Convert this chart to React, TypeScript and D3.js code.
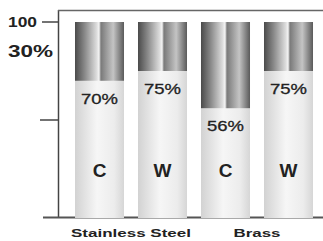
import React from 'react';
import * as d3 from 'd3';

// Data
const groups = ['Stainless Steel', 'Brass'];
const barLabels = ['C', 'W', 'C', 'W'];
const barGroup = [0, 0, 1, 1];
const lightPct = [70, 75, 56, 75];
const yTicks = [100, 50];

const W = 323;
const H = 241;
const font = 'Liberation Sans, Arial, Helvetica, sans-serif';

export default function App() {
  const y = d3.scaleLinear().domain([0, 100]).range([218, 22]);
  const x = d3.scaleBand<number>()
    .domain(d3.range(barLabels.length))
    .range([68, 320])
    .paddingInner(0.222)
    .paddingOuter(0.111);
  const bw = x.bandwidth();

  const groupCenter = (gi: number) => {
    const idx = barGroup.map((g, i) => (g === gi ? i : -1)).filter(i => i >= 0);
    const x0 = x(idx[0])!;
    const x1 = x(idx[idx.length - 1])! + bw;
    return (x0 + x1) / 2;
  };

  return (
    <svg width={W} height={H} style={{ position: 'absolute', left: 0, top: 0, background: '#fff' }}>
      <defs>
        <linearGradient id="dark" x1="0" x2="1" y1="0" y2="0">
          <stop offset="0%" stopColor="#4a4a4a" />
          <stop offset="20%" stopColor="#8a8a8a" />
          <stop offset="44%" stopColor="#dcdcdc" />
          <stop offset="49%" stopColor="#f4f4f4" />
          <stop offset="53%" stopColor="#7a7a7a" />
          <stop offset="78%" stopColor="#c4c4c4" />
          <stop offset="100%" stopColor="#5a5a5a" />
        </linearGradient>
        <linearGradient id="light" x1="0" x2="1" y1="0" y2="0">
          <stop offset="0%" stopColor="#d2d2d2" />
          <stop offset="45%" stopColor="#f6f6f6" />
          <stop offset="80%" stopColor="#ececec" />
          <stop offset="100%" stopColor="#d6d6d6" />
        </linearGradient>
      </defs>

      {/* frame */}
      <line x1={58.5} x2={58.5} y1={10} y2={218} stroke="#444" strokeWidth={1.5} />
      <line x1={58} x2={W} y1={10.5} y2={10.5} stroke="#666" strokeWidth={1.5} />
      <line x1={43} x2={W} y1={217.5} y2={217.5} stroke="#555" strokeWidth={2} />
      {yTicks.map(t => (
        <line key={t} x1={t === 100 ? 42 : 40} x2={58} y1={y(t)} y2={y(t)} stroke="#444" strokeWidth={1.5} />
      ))}
      <text x={8} y={y(100) + 5} fontFamily={font} fontWeight="bold" fontSize={15} fill="#222"
        textLength={29} lengthAdjust="spacingAndGlyphs">100</text>
      <text x={8} y={57} fontFamily={font} fontWeight="bold" fontSize={17} fill="#222"
        textLength={45} lengthAdjust="spacingAndGlyphs">30%</text>

      {/* bars */}
      {barLabels.map((lab, i) => {
        const bx = x(i)!;
        const split = y(lightPct[i]);
        return (
          <g key={i}>
            <rect x={bx} y={split} width={bw} height={y(0) - split} fill="url(#light)" />
            <rect x={bx} y={y(100)} width={bw} height={split - y(100)} fill="url(#dark)" />
            <text x={bx + bw / 2} y={split + 23} textAnchor="middle" fontFamily={font} fontSize={15}
              fill="#222" stroke="#222" strokeWidth={0.3} textLength={37} lengthAdjust="spacingAndGlyphs">{lightPct[i]}%</text>
            <text x={bx + bw / 2} y={177} textAnchor="middle" fontFamily={font} fontWeight="bold"
              fontSize={19} fill="#222">{lab}</text>
          </g>
        );
      })}

      {groups.map((g, gi) => (
        <text key={g} x={groupCenter(gi)} y={237} textAnchor="middle" fontFamily={font} fontWeight="bold"
          fontSize={11} fill="#222" textLength={g.length > 6 ? 120 : 47} lengthAdjust="spacingAndGlyphs">{g}</text>
      ))}
    </svg>
  );
}
